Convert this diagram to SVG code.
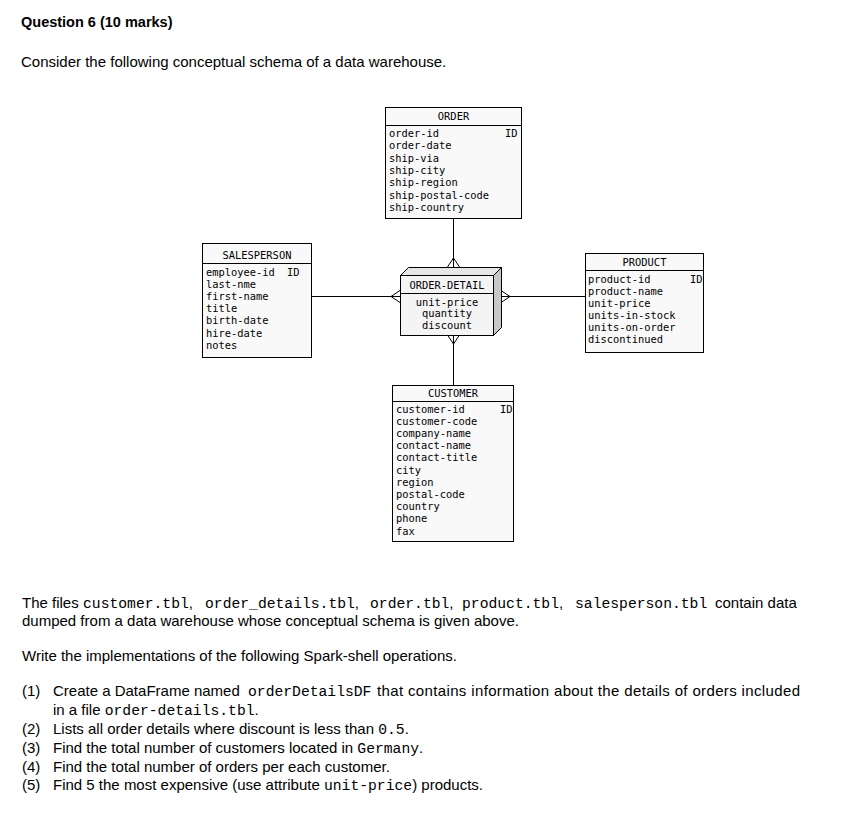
<svg xmlns="http://www.w3.org/2000/svg" width="842" height="826" viewBox="0 0 842 826">
<style>
.bg{fill:#ffffff}
.box{fill:#f9f9f9;stroke:#000;stroke-width:1}
.ln{stroke:#000;stroke-width:1;fill:none}
.m{font-family:"DejaVu Sans Mono","Liberation Mono",monospace;font-size:10.4px;fill:#000}
.t{font-family:"DejaVu Sans Mono","Liberation Mono",monospace;font-size:10.4px;fill:#000;text-anchor:middle}
.p{font-family:"Liberation Sans",Arial,sans-serif;font-size:15px;fill:#000}
.b{font-family:"Liberation Sans",Arial,sans-serif;font-size:14.5px;font-weight:bold;fill:#000}
.c{font-family:"Liberation Mono","Courier New",monospace;font-size:14.7px}
</style>
<rect class="bg" x="0" y="0" width="842" height="826"/>

<text class="b" x="21" y="27">Question 6 (10 marks)</text>
<text class="p" x="21" y="67">Consider the following conceptual schema of a data warehouse.</text>

<g id="connectors">
  <line class="ln" x1="453.5" y1="219" x2="453.5" y2="267"/>
  <path class="ln" d="M447.5,267 L453.5,258 L459.5,267"/>
  <line class="ln" x1="312" y1="296.5" x2="400" y2="296.5"/>
  <path class="ln" d="M400,290.5 L391,296.5 L400,302.5"/>
  <line class="ln" x1="501" y1="296.5" x2="585" y2="296.5"/>
  <path class="ln" d="M501,290.5 L510,296.5 L501,302.5"/>
  <line class="ln" x1="453.5" y1="335" x2="453.5" y2="385"/>
  <path class="ln" d="M447.5,335 L453.5,344 L459.5,335"/>
</g>

<g id="order">
  <rect class="box" x="385.5" y="107.5" width="136" height="111"/>
  <line class="ln" x1="385.5" y1="125.5" x2="521.5" y2="125.5"/>
  <text class="t" x="453.5" y="120">ORDER</text>
  <text class="m" x="389" y="137">order-id</text>
  <text class="m" x="505" y="137">ID</text>
  <text class="m" x="389" y="149.3">order-date</text>
  <text class="m" x="389" y="161.6">ship-via</text>
  <text class="m" x="389" y="174">ship-city</text>
  <text class="m" x="389" y="186.3">ship-region</text>
  <text class="m" x="389" y="198.6">ship-postal-code</text>
  <text class="m" x="389" y="211">ship-country</text>
</g>

<g id="salesperson">
  <rect class="box" x="202.5" y="243.5" width="109" height="114"/>
  <line class="ln" x1="202.5" y1="263.5" x2="311.5" y2="263.5"/>
  <text class="t" x="257" y="258.5">SALESPERSON</text>
  <text class="m" x="206" y="275.5">employee-id</text>
  <text class="m" x="287" y="275.5">ID</text>
  <text class="m" x="206" y="287.7">last-nme</text>
  <text class="m" x="206" y="299.9">first-name</text>
  <text class="m" x="206" y="312.1">title</text>
  <text class="m" x="206" y="324.3">birth-date</text>
  <text class="m" x="206" y="336.5">hire-date</text>
  <text class="m" x="206" y="348.7">notes</text>
</g>

<g id="order-detail">
  <path d="M400.5,275.5 L408.5,267.5 L501.5,267.5 L493.5,275.5 Z" fill="#e6e6e6" stroke="#000" stroke-width="1"/>
  <path d="M493.5,275.5 L501.5,267.5 L501.5,327.5 L493.5,335.5 Z" fill="#c8c8c8" stroke="#000" stroke-width="1"/>
  <rect x="400.5" y="275.5" width="93" height="60" fill="#f4f4f4" stroke="#000" stroke-width="1"/>
  <line class="ln" x1="400.5" y1="293.5" x2="493.5" y2="293.5"/>
  <text class="t" x="447" y="288.5">ORDER-DETAIL</text>
  <text class="t" x="447" y="305.5">unit-price</text>
  <text class="t" x="447" y="317">quantity</text>
  <text class="t" x="447" y="328.5">discount</text>
</g>

<g id="product">
  <rect class="box" x="585.5" y="253.5" width="118" height="99"/>
  <line class="ln" x1="585.5" y1="270.5" x2="703.5" y2="270.5"/>
  <text class="t" x="644.5" y="266">PRODUCT</text>
  <text class="m" x="588" y="282.5">product-id</text>
  <text class="m" x="690" y="282.5">ID</text>
  <text class="m" x="588" y="294.5">product-name</text>
  <text class="m" x="588" y="306.5">unit-price</text>
  <text class="m" x="588" y="318.5">units-in-stock</text>
  <text class="m" x="588" y="330.5">units-on-order</text>
  <text class="m" x="588" y="342.5">discontinued</text>
</g>

<g id="customer">
  <rect class="box" x="392.5" y="385.5" width="121" height="156"/>
  <line class="ln" x1="392.5" y1="401.5" x2="513.5" y2="401.5"/>
  <text class="t" x="453" y="396.5">CUSTOMER</text>
  <text class="m" x="396" y="412.5">customer-id</text>
  <text class="m" x="500" y="412.5">ID</text>
  <text class="m" x="396" y="424.7">customer-code</text>
  <text class="m" x="396" y="436.9">company-name</text>
  <text class="m" x="396" y="449.1">contact-name</text>
  <text class="m" x="396" y="461.3">contact-title</text>
  <text class="m" x="396" y="473.5">city</text>
  <text class="m" x="396" y="485.7">region</text>
  <text class="m" x="396" y="497.9">postal-code</text>
  <text class="m" x="396" y="510.1">country</text>
  <text class="m" x="396" y="522.3">phone</text>
  <text class="m" x="396" y="534.5">fax</text>
</g>

<text class="p" y="608"><tspan x="22">The files </tspan><tspan x="83" class="c">customer.tbl</tspan><tspan>,</tspan><tspan x="205" class="c">order_details.tbl</tspan><tspan>,</tspan><tspan x="370" class="c">order.tbl</tspan><tspan>,</tspan><tspan x="462" class="c">product.tbl</tspan><tspan>,</tspan><tspan x="575" class="c">salesperson.tbl</tspan><tspan x="715">contain data</tspan></text>
<text class="p" x="22" y="626">dumped from a data warehouse whose conceptual schema is given above.</text>

<text class="p" x="22" y="661">Write the implementations of the following Spark-shell operations.</text>

<text class="p" x="22" y="696">(1)</text>
<text class="p" y="696"><tspan x="53">Create a DataFrame named </tspan><tspan x="248" class="c">orderDetailsDF</tspan></text>
<text class="p" x="377" y="696" textLength="423" lengthAdjust="spacing">that contains information about the details of orders included</text>
<text class="p" y="715"><tspan x="53">in a file </tspan><tspan class="c">order-details.tbl</tspan><tspan>.</tspan></text>
<text class="p" x="22" y="734">(2)</text>
<text class="p" y="734"><tspan x="53">Lists all order details where discount is less than </tspan><tspan class="c">0.5</tspan><tspan>.</tspan></text>
<text class="p" x="22" y="753">(3)</text>
<text class="p" y="753"><tspan x="53">Find the total number of customers located in </tspan><tspan class="c">Germany</tspan><tspan>.</tspan></text>
<text class="p" x="22" y="772">(4)</text>
<text class="p" x="53" y="772">Find the total number of orders per each customer.</text>
<text class="p" x="22" y="790">(5)</text>
<text class="p" y="790"><tspan x="53">Find 5 the most expensive (use attribute </tspan><tspan class="c">unit-price</tspan><tspan>) products.</tspan></text>
</svg>
